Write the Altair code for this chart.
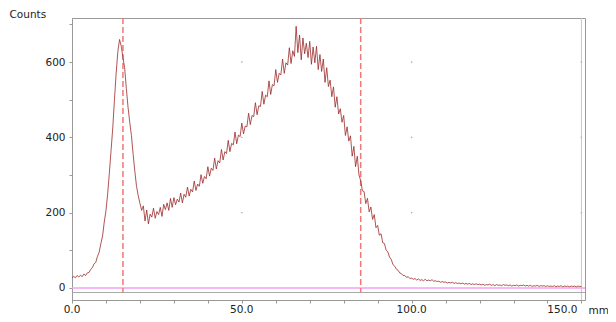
import altair as alt
import pandas as pd

counts = [
    # 0 - 9.5
    26, 31, 27, 33, 29, 34, 30, 37, 33, 40, 41, 49, 54, 64, 68, 84, 95, 118, 138, 175,
    # 10 - 19.5
    205, 250, 305, 365, 425, 500, 570, 628, 660, 642, 612, 585, 530, 480, 440, 405, 355, 310, 270, 245,
    # 20 - 29.5
    225, 206, 218, 178, 207, 170, 196, 188, 212, 185, 203, 195, 214, 190, 222, 208, 226, 206, 238, 214,
    # 30 - 39.5
    240, 221, 236, 228, 252, 226, 249, 241, 268, 244, 262, 255, 284, 259, 276, 270, 301, 278, 296, 290,
    # 40 - 49.5
    322, 297, 318, 312, 345, 316, 338, 332, 368, 340, 362, 357, 392, 362, 384, 380, 414, 383, 406, 402,
    # 50 - 59.5
    438, 409, 430, 428, 464, 434, 458, 455, 492, 460, 484, 482, 522, 488, 512, 508, 550, 514, 540, 537,
    # 60 - 69.5
    580, 546, 570, 566, 608, 570, 598, 592, 638, 596, 630, 615, 695, 625, 672, 606, 664, 622, 650, 612,
    # 70 - 79.5
    655, 594, 640, 598, 642, 580, 620, 575, 608, 546, 585, 535, 552, 508, 534, 480, 508, 462, 476, 440,
    # 80 - 89.5
    458, 405, 428, 390, 404, 350, 376, 322, 350, 300, 285, 258, 256, 224, 238, 202, 215, 182, 195, 160,
    # 90 - 99.5
    166, 140, 144, 120, 118, 100, 96, 82, 76, 62, 58, 50, 47, 40, 38, 33, 33, 28, 30, 25,
    # 100 - 109.5
    26, 23, 25, 21, 24, 20, 22, 19, 23, 19, 21, 19, 22, 18, 19, 17, 18, 15, 17, 15,
    # 110 - 119.5
    16, 13, 15, 13, 15, 12, 14, 12, 13, 11, 13, 10, 12, 10, 12, 9, 11, 9, 11, 9,
    # 120 - 129.5
    10, 8, 10, 7, 9, 8, 10, 7, 9, 6, 9, 7, 8, 6, 9, 7, 8, 6, 8, 5,
    # 130 - 139.5
    7, 6, 8, 5, 7, 6, 8, 5, 7, 5, 7, 4, 6, 5, 7, 4, 6, 5, 6, 4,
    # 140 - 150
    6, 4, 5, 4, 6, 3, 5, 4, 6, 3, 5, 4, 5, 3, 5, 4, 5, 3, 5, 4, 4,
]
mm = [i * 0.5 for i in range(len(counts))]

markers = [15.0, 85.0]
x_ticks = [0, 10, 20, 30, 40, 50, 60, 70, 80, 90, 100, 110, 120, 130, 140, 150]
x_labels_center = [0, 50, 100]
x_labels_end = [150]
y_ticks = [0, 100, 200, 300, 400, 500, 600, 700]
grid_x = [50, 100, 150]
grid_y = [200, 400, 600]
baseline = [0]
inner_bottom = [-12]
inner_right = [150]
x_domain = [0, 151.05]
y_domain = [-32, 717]

df = pd.DataFrame({"mm": mm, "counts": counts})
df_mark = pd.DataFrame({"m": markers})
df_base = pd.DataFrame({"y": baseline})
df_ib = pd.DataFrame({"y": inner_bottom})
df_ir = pd.DataFrame({"x": inner_right})
df_grid = pd.DataFrame([{"gx": gx, "gy": gy} for gx in grid_x for gy in grid_y])
df_xlc = pd.DataFrame({"v": x_labels_center, "t": [f"{v:.1f}" for v in x_labels_center]})
df_xle = pd.DataFrame({"v": x_labels_end, "t": [f"{v:.1f}" for v in x_labels_end]})

FONT = "DejaVu Sans"
FS = 10.5
xs = alt.Scale(domain=x_domain, nice=False, zero=False)
ys = alt.Scale(domain=y_domain, nice=False, zero=False)

x_axis = alt.Axis(
    values=x_ticks,
    labels=False,
    title="mm",
    titleX=516, titleY=10, titleAlign="left", titleBaseline="middle",
    titleFontWeight="normal", titleFont=FONT, titleFontSize=FS, titleColor="#222",
    grid=False, tickSize=3,
    domainColor="#999", tickColor="#999",
)
y_axis = alt.Axis(
    values=y_ticks,
    labelExpr="datum.value % 200 == 0 ? datum.value : ''",
    title="Counts",
    titleAngle=0, titleX=-63, titleY=-4, titleAlign="left", titleBaseline="middle",
    titleFontWeight="normal", titleFont=FONT, titleFontSize=FS, titleColor="#222",
    grid=False, tickSize=3, labelPadding=4, labelOverlap=False,
    labelFont=FONT, labelFontSize=FS, labelColor="#222",
    domainColor="#999", tickColor="#999",
)

line = alt.Chart(df).mark_line(color="#9a2a2a", strokeWidth=0.8).encode(
    x=alt.X("mm:Q", scale=xs, axis=x_axis),
    y=alt.Y("counts:Q", scale=ys, axis=y_axis),
)
base_rule = alt.Chart(df_base).mark_rule(color="#f3a0f3", strokeWidth=1.5).encode(
    y=alt.Y("y:Q", scale=ys, axis=y_axis)
)
ib_rule = alt.Chart(df_ib).mark_rule(color="#a8a8a8", strokeWidth=1).encode(
    y=alt.Y("y:Q", scale=ys, axis=y_axis)
)
ir_rule = alt.Chart(df_ir).mark_rule(color="#c8c8c8", strokeWidth=1).encode(
    x=alt.X("x:Q", scale=xs, axis=x_axis)
)
grid_dots = alt.Chart(df_grid).mark_square(size=2, color="#b0b0b0", opacity=1).encode(
    x=alt.X("gx:Q", scale=xs, axis=x_axis),
    y=alt.Y("gy:Q", scale=ys, axis=y_axis),
)
dashes = alt.Chart(df_mark).mark_rule(color="#f07878", strokeDash=[6, 3], strokeWidth=1.5).encode(
    x=alt.X("m:Q", scale=xs, axis=x_axis),
    y=alt.Y(datum=717, scale=ys, axis=y_axis),
    y2=alt.Y2(datum=-12),
)
xlab_c = alt.Chart(df_xlc).mark_text(
    align="center", baseline="top", dy=5, font=FONT, fontSize=FS, color="#222"
).encode(
    x=alt.X("v:Q", scale=xs, axis=x_axis),
    y=alt.Y(datum=-32, scale=ys, axis=y_axis),
    text="t:N",
)
xlab_e = alt.Chart(df_xle).mark_text(
    align="right", baseline="top", dy=5, dx=-4, font=FONT, fontSize=FS, color="#222"
).encode(
    x=alt.X("v:Q", scale=xs, axis=x_axis),
    y=alt.Y(datum=-32, scale=ys, axis=y_axis),
    text="t:N",
)

chart = alt.layer(ir_rule, ib_rule, grid_dots, base_rule, dashes, line, xlab_c, xlab_e).properties(
    width=513,
    height=282,
    autosize=alt.AutoSizeParams(type="none"),
    padding={"left": 64, "top": 10, "right": 23, "bottom": 14},
    background="white",
).configure_view(stroke="#999", strokeWidth=1, clip=False)

chart.save("out.html", embed_options={"renderer": "svg", "actions": False})
